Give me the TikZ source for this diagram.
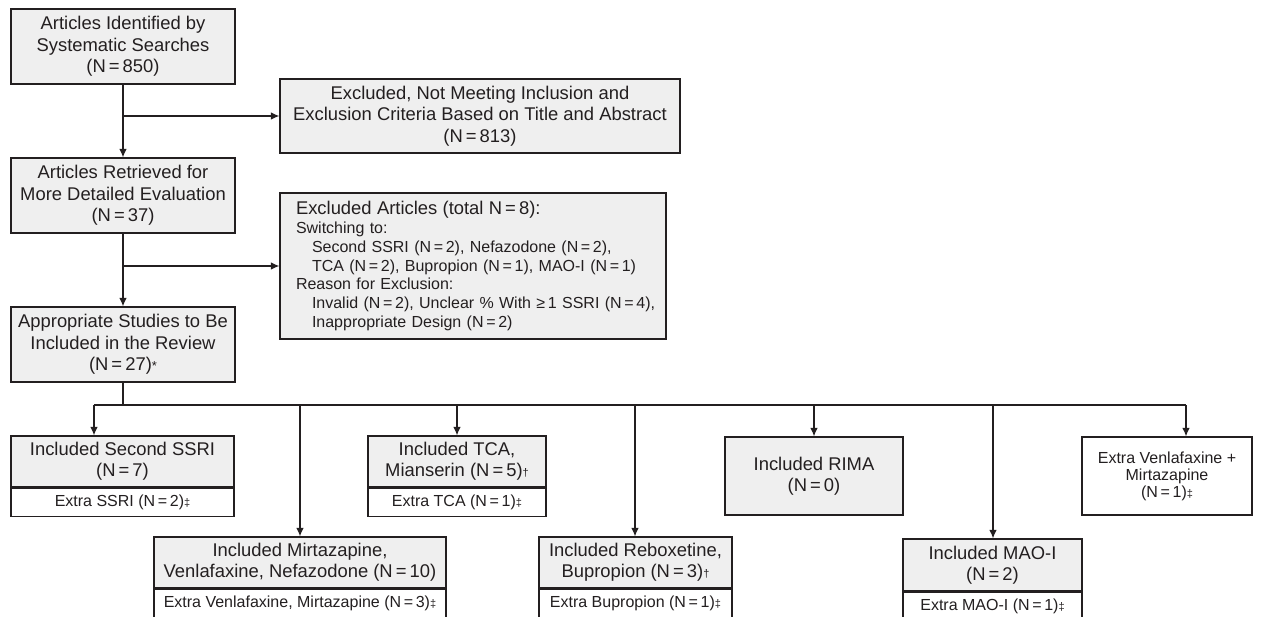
\documentclass[tikz,border=0pt]{standalone}
\usepackage{fontspec}
\setmainfont{Liberation Sans}
\usetikzlibrary{arrows.meta}
\definecolor{boxgray}{HTML}{EFEFEF}
\definecolor{ink}{HTML}{231F20}
\newcommand{\myeq}{\,=\,}
\newcommand{\mydg}{{\fontsize{11}{11}\selectfont †}}
\newcommand{\myddg}{{\fontsize{11}{11}\selectfont ‡}}
\tikzset{
  base/.style={draw=ink, line width=1.2pt, inner sep=0pt, align=center, text=ink},
  greybox/.style={base, fill=boxgray, font=\fontsize{18.4}{21.5}\selectfont},
  lowgrey/.style={base, fill=boxgray, font=\fontsize{18.4}{20.7}\selectfont},
  subbox/.style={base, fill=white, font=\fontsize{16}{17}\selectfont},
  arr/.style={draw=ink, line width=1.2pt, -{Latex[length=8.5pt,width=7.5pt]}},
  ln/.style={draw=ink, line width=1.2pt},
}
\begin{document}
\begin{tikzpicture}[x=1pt,y=-1pt]
\useasboundingbox (0,0) rectangle (1263,617);
\clip (0,0) rectangle (1263,617);
% top column
\node[greybox, minimum width=224pt, minimum height=75pt] (b1) at (123,46.5)
  {Articles Identified by\\Systematic Searches\\(N\myeq850)};
\node[greybox, minimum width=400pt, minimum height=74pt] (b2) at (480,116)
  {Excluded, Not Meeting Inclusion and\\Exclusion Criteria Based on Title and Abstract\\(N\myeq813)};
\node[greybox, minimum width=224pt, minimum height=75pt] (b3) at (123,195.5)
  {Articles Retrieved for\\More Detailed Evaluation\\(N\myeq37)};
\node[base, fill=boxgray, minimum width=386pt, minimum height=146pt, text width=354pt,
      inner xsep=16pt, align=left, font=\fontsize{16}{18.7}\selectfont] (b4) at (473,266)
  {\mbox{\fontsize{18.4}{18.7}\selectfont Excluded Articles (total N\myeq8):}\\
   Switching to:\\
   \mbox{\hspace*{16pt}Second SSRI (N\myeq2), Nefazodone (N\myeq2),}\\
   \mbox{\hspace*{16pt}TCA (N\myeq2), Bupropion (N\myeq1), MAO-I (N\myeq1)}\\
   Reason for Exclusion:\\
   \mbox{\hspace*{16pt}Invalid (N\myeq2), Unclear \% With ≥\,1 SSRI (N\myeq4),}\\
   \mbox{\hspace*{16pt}Inappropriate Design (N\myeq2)}};
\node[greybox, minimum width=224pt, minimum height=75pt] (b5) at (123,344.5)
  {Appropriate Studies to Be\\Included in the Review\\(N\myeq27){\fontsize{13}{13}\selectfont *}};

\draw[arr] (b1) -- (b3);
\draw[arr] (b1.south |- b2.west) -- (b2.west);
\draw[arr] (b3) -- (b5);
\draw[arr] (b3.south |- b4.west) -- (b4.west);

% bottom row
\node[lowgrey, minimum width=223pt, minimum height=51pt] (s1) at (122.5,461.5)
  {Included Second SSRI\\(N\myeq7)};
\node[subbox, minimum width=223pt, minimum height=28pt, anchor=north] (s1x) at (s1.south)
  {Extra SSRI (N\myeq2)\myddg};
\node[lowgrey, minimum width=292pt, minimum height=51pt] (s2) at (300,562.5)
  {Included Mirtazapine,\\Venlafaxine, Nefazodone (N\myeq10)};
\node[subbox, minimum width=292pt, minimum height=28pt, anchor=north] (s2x) at (s2.south)
  {Extra Venlafaxine, Mirtazapine (N\myeq3)\myddg};
\node[lowgrey, minimum width=178pt, minimum height=51pt] (s3) at (457,461.5)
  {Included TCA,\\Mianserin (N\myeq5)\mydg};
\node[subbox, minimum width=178pt, minimum height=28pt, anchor=north] (s3x) at (s3.south)
  {Extra TCA (N\myeq1)\myddg};
\node[lowgrey, minimum width=193pt, minimum height=51pt] (s4) at (635.5,562.5)
  {Included Reboxetine,\\Bupropion (N\myeq3)\mydg};
\node[subbox, minimum width=193pt, minimum height=29pt, anchor=north] (s4x) at (s4.south)
  {Extra Bupropion (N\myeq1)\myddg};
\node[lowgrey, minimum width=178pt, minimum height=78pt] (s5) at (814,476)
  {Included RIMA\\(N\myeq0)};
\node[lowgrey, minimum width=179pt, minimum height=52pt] (s6) at (992.5,565)
  {Included MAO-I\\(N\myeq2)};
\node[subbox, minimum width=179pt, minimum height=29pt, anchor=north] (s6x) at (s6.south)
  {Extra MAO-I (N\myeq1)\myddg};
\node[subbox, minimum width=170pt, minimum height=78pt] (s7) at (1167,476)
  {Extra Venlafaxine +\\Mirtazapine\\(N\myeq1)\myddg};

\coordinate (c0) at (123,405);
\coordinate (c1) at (94,405);
\coordinate (c2) at (300,405);
\coordinate (c3) at (457,405);
\coordinate (c4) at (635,405);
\coordinate (c5) at (814,405);
\coordinate (c6) at (993,405);
\coordinate (c7) at (1186,405);
\draw[ln] (b5.south) -- (c0);
\draw[ln] (c1) -- (c7);
\draw[arr] (c1) -- (c1 |- s1.north);
\draw[arr] (c2) -- (c2 |- s2.north);
\draw[arr] (c3) -- (c3 |- s3.north);
\draw[arr] (c4) -- (c4 |- s4.north);
\draw[arr] (c5) -- (c5 |- s5.north);
\draw[arr] (c6) -- (c6 |- s6.north);
\draw[arr] (c7) -- (c7 |- s7.north);
\end{tikzpicture}
\end{document}
